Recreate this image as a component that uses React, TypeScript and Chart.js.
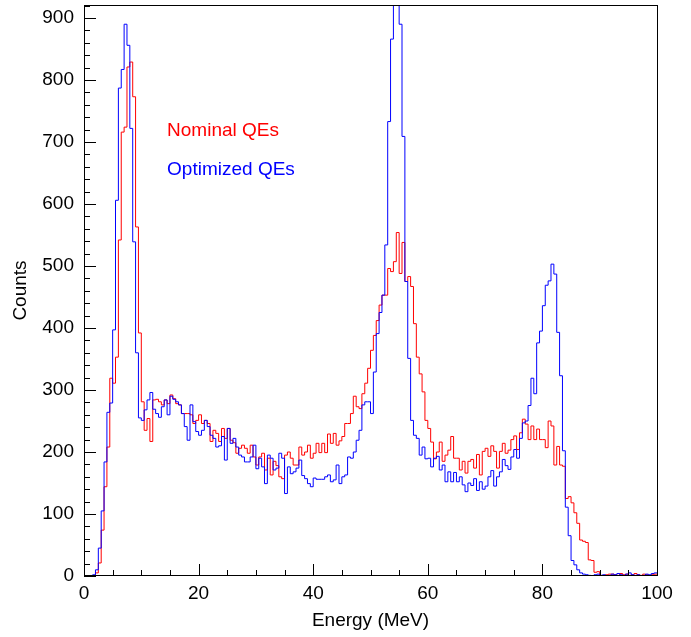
import React, { useEffect, useRef } from "react";
import { Chart, registerables } from "chart.js";

Chart.register(...registerables);

// Histogram: 200 bins of 0.5 MeV from 0 to 100 MeV
const binCount = 200;
const binWidth = 0.5;
const binEdges: number[] = Array.from({ length: binCount + 1 }, (_, i) => i * binWidth);

const nominalQEs: number[] = [
  0, 0, 0, 0, 5, 21, 74, 144, 208, 319,
  311, 353, 542, 716, 724, 821, 829, 773, 563, 392,
  281, 235, 254, 217, 284, 285, 281, 276, 284, 278,
  292, 286, 278, 276, 262, 262, 262, 260, 246, 251,
  260, 246, 251, 246, 217, 235, 230, 217, 238, 222,
  238, 219, 215, 198, 206, 211, 206, 198, 211, 192,
  179, 192, 198, 171, 190, 163, 185, 178, 160, 157,
  195, 200, 190, 179, 179, 208, 195, 200, 211, 190,
  198, 214, 199, 214, 199, 229, 214, 230, 211, 218,
  225, 246, 246, 262, 290, 273, 270, 294, 311, 335,
  364, 388, 412, 437, 453, 453, 496, 491, 507, 554,
  488, 538, 475, 483, 467, 407, 353, 326, 297, 251,
  238, 216, 189, 200, 216, 185, 195, 203, 225, 190,
  190, 171, 185, 166, 185, 188, 174, 196, 163, 201,
  206, 193, 210, 201, 174, 201, 214, 198, 203, 220,
  226, 204, 231, 253, 245, 220, 242, 220, 237, 220,
  220, 207, 250, 242, 179, 209, 179, 177, 125, 128,
  118, 102, 85, 58, 56, 54, 26, 25, 6, 7,
  1, 0, 2, 3, 3, 2, 1, 4, 2, 3,
  1, 2, 4, 2, 1, 3, 2, 1, 2, 3,
];

const optimizedQEs: number[] = [
  0, 0, 0, 2, 10, 45, 105, 184, 264, 279,
  397, 606, 787, 817, 890, 856, 722, 539, 360, 255,
  251, 268, 284, 296, 269, 262, 256, 273, 284, 260,
  290, 285, 281, 276, 262, 241, 219, 276, 249, 233,
  227, 235, 251, 241, 227, 222, 208, 210, 225, 187,
  238, 214, 222, 208, 195, 192, 184, 184, 192, 211,
  173, 190, 176, 149, 195, 190, 171, 174, 198, 190,
  133, 176, 165, 168, 174, 187, 162, 157, 149, 144,
  158, 156, 156, 156, 160, 163, 152, 155, 179, 149,
  160, 163, 192, 190, 200, 219, 235, 276, 281, 281,
  262, 329, 391, 425, 453, 534, 733, 866, 960, 960,
  890, 709, 475, 351, 251, 227, 222, 195, 208, 189,
  190, 176, 190, 193, 171, 179, 152, 168, 152, 167,
  152, 160, 147, 136, 150, 146, 157, 138, 152, 140,
  145, 160, 170, 145, 160, 168, 188, 178, 172, 192,
  204, 190, 222, 247, 250, 275, 319, 294, 376, 395,
  436, 469, 476, 503, 487, 393, 323, 202, 111, 65,
  25, 18, 10, 5, 3, 2, 1, 0, 2, 3,
  1, 2, 0, 1, 3, 2, 4, 2, 1, 3,
  5, 2, 1, 2, 0, 1, 3, 2, 4, 5,
];

const seriesNames = ["Nominal QEs", "Optimized QEs"];
const seriesColors = ["#ff0000", "#0000ff"];
const xTickValues = [0, 20, 40, 60, 80, 100];
const yTickValues = [0, 100, 200, 300, 400, 500, 600, 700, 800, 900];
const xMinorStep = 5;
const yMinorStep = 20;
const xRange = [0, 100];
const yRange = [0, 921];
const legendPos = [
  { x: 14.5, y: 710 },
  { x: 14.5, y: 647 },
];

const FONT = "'Liberation Sans', Arial, Helvetica, sans-serif";

function toPoints(values: number[]) {
  const pts = values.map((v, i) => ({ x: binEdges[i], y: v }));
  pts.push({ x: binEdges[binCount], y: values[values.length - 1] });
  return pts;
}

const framePlugin = {
  id: "rootFrame",
  afterDatasetsDraw(chart: any) {
    const { ctx, chartArea: a, scales } = chart;
    const xs = scales.x;
    const ys = scales.y;
    ctx.save();
    ctx.strokeStyle = "#000";
    ctx.lineWidth = 1;
    ctx.beginPath();
    for (let v = yRange[0]; v <= yRange[1]; v += yMinorStep) {
      const py = Math.round(ys.getPixelForValue(v)) + 0.5;
      const major = yTickValues.includes(v);
      ctx.moveTo(a.left, py);
      ctx.lineTo(a.left + (major ? 12 : 6), py);
    }
    for (let v = xRange[0]; v <= xRange[1]; v += xMinorStep) {
      const px = Math.round(xs.getPixelForValue(v)) + 0.5;
      const major = xTickValues.includes(v);
      ctx.moveTo(px, a.bottom);
      ctx.lineTo(px, a.bottom - (major ? 12 : 6));
    }
    ctx.stroke();
    ctx.strokeRect(
      Math.round(a.left) + 0.5,
      Math.round(a.top) + 0.5,
      Math.round(a.right - a.left),
      Math.round(a.bottom - a.top) - 1
    );
    // legend text
    ctx.font = `19px ${FONT}`;
    ctx.textBaseline = "alphabetic";
    ctx.textAlign = "left";
    seriesNames.forEach((name, i) => {
      ctx.fillStyle = seriesColors[i];
      ctx.fillText(
        name,
        xs.getPixelForValue(legendPos[i].x),
        ys.getPixelForValue(legendPos[i].y)
      );
    });
    ctx.restore();
  },
};

export default function App() {
  const canvasRef = useRef<HTMLCanvasElement | null>(null);

  useEffect(() => {
    if (!canvasRef.current) return;
    Chart.defaults.font.family = FONT;
    Chart.defaults.color = "#000";
    const chart = new Chart(canvasRef.current, {
      type: "line",
      data: {
        datasets: [
          {
            label: seriesNames[1],
            data: toPoints(optimizedQEs),
            borderColor: seriesColors[1],
            borderWidth: 1,
            pointRadius: 0,
            stepped: "before",
            fill: false,
          },
          {
            label: seriesNames[0],
            data: toPoints(nominalQEs),
            borderColor: seriesColors[0],
            borderWidth: 1,
            pointRadius: 0,
            stepped: "before",
            fill: false,
          },
        ],
      },
      options: {
        responsive: false,
        animation: false,
        parsing: true,
        layout: { padding: { left: 0, right: 34, top: 5, bottom: 0 } },
        plugins: {
          legend: { display: false },
          tooltip: { enabled: false },
        },
        scales: {
          x: {
            type: "linear",
            min: xRange[0],
            max: xRange[1],
            grid: { display: false, drawTicks: false },
            border: { display: false },
            afterFit: (s: any) => {
              s.height = 61;
              s.paddingLeft = 0;
              s.paddingRight = 0;
            },
            afterBuildTicks: (s: any) => {
              s.ticks = xTickValues.map((v) => ({ value: v }));
            },
            ticks: {
              font: { size: 19 },
              padding: 6,
              maxRotation: 0,
              autoSkip: false,
              color: "#000",
            },
            title: {
              display: true,
              text: "Energy (MeV)",
              font: { size: 19 },
              padding: { top: 0, bottom: 5 },
              color: "#000",
            },
          },
          y: {
            type: "linear",
            min: yRange[0],
            max: yRange[1],
            grid: { display: false, drawTicks: false },
            border: { display: false },
            afterFit: (s: any) => {
              s.width = 84;
              s.paddingTop = 0;
              s.paddingBottom = 0;
            },
            afterBuildTicks: (s: any) => {
              s.ticks = yTickValues.map((v) => ({ value: v }));
            },
            ticks: {
              font: { size: 19 },
              padding: 10,
              autoSkip: false,
              color: "#000",
            },
            title: {
              display: true,
              text: "Counts",
              font: { size: 19 },
              padding: { top: 9, bottom: 0 },
              color: "#000",
            },
          },
        },
      },
      plugins: [framePlugin],
    });
    return () => chart.destroy();
  }, []);

  return (
    <div style={{ position: "absolute", left: 0, top: 0, width: 691, height: 637, background: "#fff" }}>
      <canvas ref={canvasRef} width={691} height={637} style={{ display: "block" }} />
    </div>
  );
}
